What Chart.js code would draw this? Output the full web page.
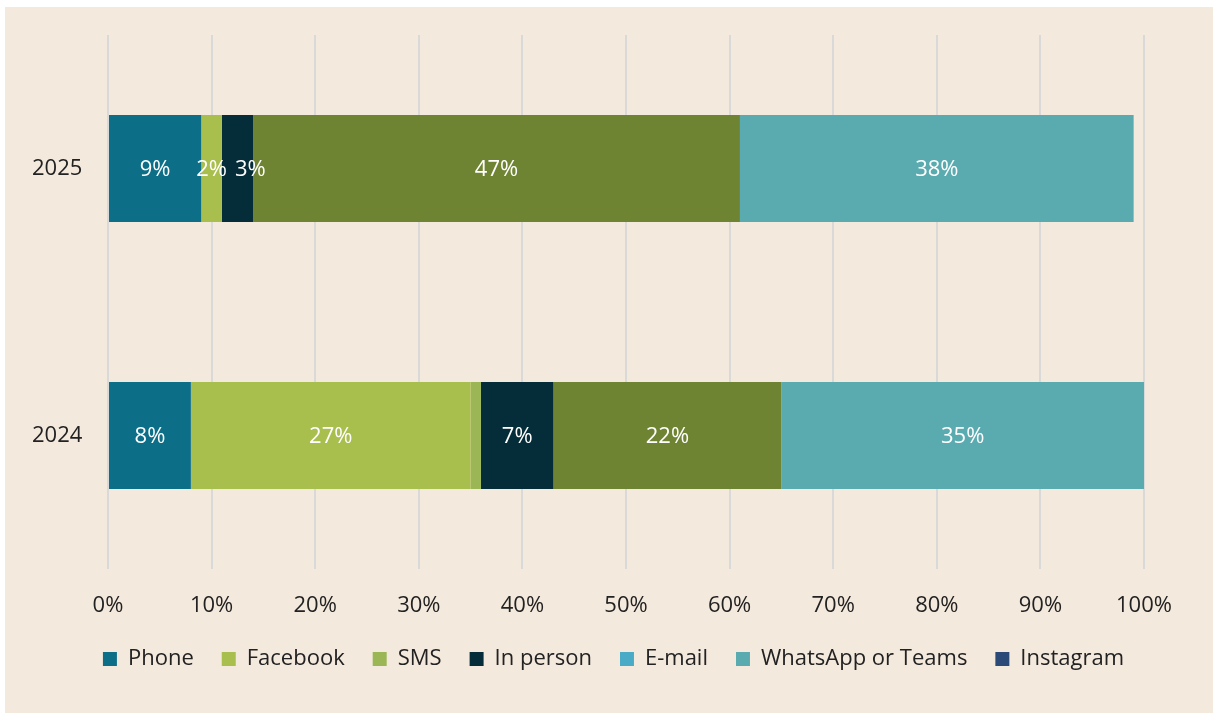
<!DOCTYPE html>
<html>
<head>
<meta charset="utf-8">
<script src="https://cdn.jsdelivr.net/npm/chart.js@4.4.1/dist/chart.umd.min.js"></script>
<style>
  html, body { margin: 0; padding: 0; background: #ffffff; }
  #wrap { position: absolute; left: 5px; top: 7px; width: 1208px; height: 706px; background: #f4e9dd; }
  canvas { display: block; }
</style>
</head>
<body>
<div id="wrap"><canvas id="c" width="1208" height="706"></canvas></div>
<script>
const categories = ['2025', '2024'];
const seriesNames = ['Phone', 'Facebook', 'SMS', 'In person', 'E-mail', 'WhatsApp or Teams', 'Instagram'];
const phone = [9, 8];
const facebook = [2, 27];
const sms = [0, 1];
const inPerson = [3, 7];
const email = [47, 22];
const whatsapp = [38, 35];
const instagram = [0, 0];
const xTicks = [0, 10, 20, 30, 40, 50, 60, 70, 80, 90, 100];

const barColors = ['#0d6e88', '#a8be4d', '#9bb755', '#052d39', '#6f8433', '#5aabb0', '#2c4a77'];
const legendColors = ['#0d6e88', '#a8be4d', '#9bb755', '#052d39', '#4aabc6', '#5aabb0', '#2c4a77'];
const values = [phone, facebook, sms, inPerson, email, whatsapp, instagram];

const FONT = '"Open Sans", "Noto Sans", sans-serif';
const FS = 22;

const datasets = seriesNames.map((n, i) => ({
  label: n,
  data: values[i],
  backgroundColor: barColors[i],
  borderWidth: 0,
  barPercentage: 0.8,
  categoryPercentage: 0.5
}));

const labelPlugin = {
  id: 'segLabels',
  afterDatasetsDraw(chart) {
    const ctx = chart.ctx;
    ctx.save();
    ctx.font = FS + 'px ' + FONT;
    ctx.fillStyle = '#ffffff';
    ctx.textAlign = 'center';
    ctx.textBaseline = 'middle';
    const lastRight = {};
    chart.data.datasets.forEach((ds, di) => {
      const meta = chart.getDatasetMeta(di);
      meta.data.forEach((el, i) => {
        const v = ds.data[i];
        if (v < 2) return;
        const txt = v + '%';
        const w = ctx.measureText(txt).width;
        let cx = (el.x + el.base) / 2;
        if (lastRight[i] !== undefined && cx - w / 2 < lastRight[i] + 8) {
          cx = lastRight[i] + 8 + w / 2;
        }
        lastRight[i] = cx + w / 2;
        ctx.fillText(txt, cx, el.y + 1);
      });
    });
    ctx.restore();
  }
};

new Chart(document.getElementById('c'), {
  type: 'bar',
  data: { labels: categories, datasets },
  plugins: [labelPlugin],
  options: {
    indexAxis: 'y',
    responsive: false,
    animation: false,
    layout: { padding: { left: 27, right: 18, top: 28, bottom: 33 } },
    scales: {
      x: {
        stacked: true,
        min: 0, max: 100,
        afterBuildTicks(scale) { scale.ticks = xTicks.map(v => ({ value: v })); },
        afterFit(scale) { scale.height = 51; },
        ticks: { callback: v => v + '%', color: '#222222', font: { family: FONT, size: FS }, padding: 24, maxRotation: 0 },
        grid: { color: '#d9d9d9', lineWidth: 2, drawTicks: false },
        border: { display: false }
      },
      y: {
        stacked: true,
        afterFit(scale) { scale.width = 76; },
        ticks: { color: '#222222', font: { family: FONT, size: FS }, padding: 0, crossAlign: 'far' },
        grid: { display: false, drawTicks: false },
        border: { display: false }
      },
      ySpacer: {
        axis: 'y',
        type: 'category',
        position: 'right',
        labels: categories,
        afterFit(scale) { scale.width = 51; },
        ticks: { display: false, padding: 0 },
        grid: { display: false, drawTicks: false },
        border: { display: false }
      }
    },
    plugins: {
      tooltip: { enabled: false },
      legend: {
        position: 'bottom',
        labels: {
          font: { family: FONT, size: FS },
          color: '#222222',
          boxWidth: 14, boxHeight: 14,
          padding: 28,
          generateLabels(chart) {
            return chart.data.datasets.map((ds, i) => ({
              text: ds.label,
              fillStyle: legendColors[i],
              strokeStyle: legendColors[i],
              lineWidth: 0,
              hidden: false,
              datasetIndex: i,
              fontColor: '#222222'
            }));
          }
        }
      }
    }
  }
});
</script>
</body>
</html>
